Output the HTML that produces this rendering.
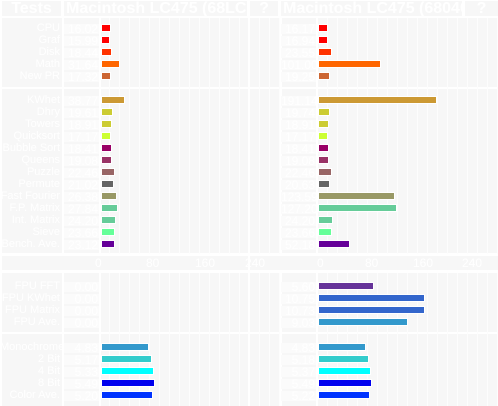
<!DOCTYPE html>
<html><head><meta charset="utf-8"><style>
*{margin:0;padding:0;box-sizing:border-box}
body{width:498px;height:406px;background:#fff;position:relative;overflow:hidden;font-family:"Liberation Sans",sans-serif;color:#fff}
div{position:absolute}
.p{background:#f7f7f7}
.g{background-image:repeating-linear-gradient(90deg,transparent 0 9px,#fdfdfd 9px 10px)}
.b{height:8px;border:1px solid #fff}
.l{font-size:11px;line-height:12px;text-align:right;width:60px;left:0;white-space:nowrap}
.v{font-size:12px;line-height:10px;text-align:right;width:35px;background:#fbfbfb;padding-right:1px}
.h{font-size:16px;font-weight:bold;line-height:16px;color:#fff;white-space:nowrap;overflow:hidden}
</style></head><body>
<div class="p h" style="left:2px;top:1px;width:59px;height:15px;text-align:center">Tests</div>
<div class="p h" style="left:64px;top:1px;width:183px;height:15px;padding-left:2px">Macintosh LC475 (68LC040)</div>
<div class="p h" style="left:250px;top:1px;width:28px;height:15px;text-align:center">?</div>
<div class="p h" style="left:281px;top:1px;width:181px;height:15px;padding-left:2px">Macintosh LC475 (68040)</div>
<div class="p h" style="left:465px;top:1px;width:33px;height:15px;text-align:center">?</div>
<div class="p" style="left:2px;top:18px;width:496px;height:69px"></div>
<div class="p" style="left:2px;top:89px;width:496px;height:164px"></div>
<div class="p" style="left:2px;top:256px;width:496px;height:14px"></div>
<div class="p" style="left:2px;top:273px;width:496px;height:59px"></div>
<div class="p" style="left:2px;top:334px;width:496px;height:72px"></div>
<div class="g" style="left:100px;top:18px;width:148px;height:236px"></div>
<div class="g" style="left:100px;top:273px;width:148px;height:133px"></div>
<div class="g" style="left:250px;top:18px;width:30px;height:236px"></div>
<div class="g" style="left:250px;top:273px;width:30px;height:133px"></div>
<div class="g" style="left:318px;top:18px;width:180px;height:236px"></div>
<div class="g" style="left:318px;top:273px;width:180px;height:133px"></div>
<div style="left:62px;top:18px;width:2px;height:236px;background:#fff"></div>
<div style="left:62px;top:273px;width:2px;height:133px;background:#fff"></div>
<div style="left:99px;top:18px;width:2px;height:236px;background:#fff"></div>
<div style="left:99px;top:273px;width:2px;height:133px;background:#fff"></div>
<div style="left:248px;top:18px;width:2px;height:388px;background:#fff"></div>
<div style="left:280px;top:18px;width:2px;height:236px;background:#fff"></div>
<div style="left:280px;top:273px;width:2px;height:133px;background:#fff"></div>
<div style="left:316px;top:18px;width:2px;height:236px;background:#fff"></div>
<div style="left:316px;top:273px;width:2px;height:133px;background:#fff"></div>
<div style="left:2px;top:257px;width:496px;height:12px;font-size:12px;line-height:12px">
<span style="position:absolute;left:93px">0</span><span style="position:absolute;left:144px">80</span><span style="position:absolute;left:193px">160</span><span style="position:absolute;left:243px">240</span>
<span style="position:absolute;left:315px">0</span><span style="position:absolute;left:363px">80</span><span style="position:absolute;left:411px">160</span><span style="position:absolute;left:460px">240</span></div>

<div class="l" style="top:22px">CPU</div><div class="l" style="top:34px">Graf</div><div class="l" style="top:46px">Disk</div><div class="l" style="top:58px">Math</div><div class="l" style="top:70px">New PR</div>
<div class="l" style="top:94px">KWhet</div><div class="l" style="top:106px">Dhry</div><div class="l" style="top:118px">Towers</div><div class="l" style="top:130px">Quicksort</div><div class="l" style="top:142px">Bubble Sort</div><div class="l" style="top:154px">Queens</div><div class="l" style="top:166px">Puzzle</div><div class="l" style="top:178px">Permute</div><div class="l" style="top:190px">Fast Fourier</div><div class="l" style="top:202px">F.P. Matrix</div><div class="l" style="top:214px">Int. Matrix</div><div class="l" style="top:226px">Sieve</div><div class="l" style="top:238px">Bench. Ave.</div>
<div class="l" style="top:280px">FPU FFT</div><div class="l" style="top:292px">FPU KWhet</div><div class="l" style="top:304px">FPU Matrix</div><div class="l" style="top:316px">FPU Ave.</div>
<div class="l" style="top:341px">Monochrome</div><div class="l" style="top:353px">2 Bit</div><div class="l" style="top:365px">4 Bit</div><div class="l" style="top:377px">8 Bit</div><div class="l" style="top:389px">Color Ave.</div>

<div class="v" style="left:64px;top:24px">16.02</div><div class="v" style="left:64px;top:36px">15.99</div><div class="v" style="left:64px;top:48px">18.44</div><div class="v" style="left:64px;top:60px">31.64</div><div class="v" style="left:64px;top:72px">17.32</div>
<div class="v" style="left:64px;top:96px">38.77</div><div class="v" style="left:64px;top:108px">19.61</div><div class="v" style="left:64px;top:120px">18.91</div><div class="v" style="left:64px;top:132px">17.17</div><div class="v" style="left:64px;top:144px">18.41</div><div class="v" style="left:64px;top:156px">19.08</div><div class="v" style="left:64px;top:168px">22.46</div><div class="v" style="left:64px;top:180px">21.02</div><div class="v" style="left:64px;top:192px">26.38</div><div class="v" style="left:64px;top:204px">27.84</div><div class="v" style="left:64px;top:216px">24.20</div><div class="v" style="left:64px;top:228px">23.66</div><div class="v" style="left:64px;top:240px">23.12</div>
<div class="v" style="left:64px;top:282px">0.00</div><div class="v" style="left:64px;top:294px">0.00</div><div class="v" style="left:64px;top:306px">0.00</div><div class="v" style="left:64px;top:318px">0.00</div>
<div class="v" style="left:64px;top:343px">4.83</div><div class="v" style="left:64px;top:355px">5.17</div><div class="v" style="left:64px;top:367px">5.33</div><div class="v" style="left:64px;top:379px">5.49</div><div class="v" style="left:64px;top:391px">5.20</div>
<div class="v" style="left:281px;top:24px">16.17</div><div class="v" style="left:281px;top:36px">16.94</div><div class="v" style="left:281px;top:48px">23.55</div><div class="v" style="left:281px;top:60px">101.00</div><div class="v" style="left:281px;top:72px">19.25</div>
<div class="v" style="left:281px;top:96px">191.14</div><div class="v" style="left:281px;top:108px">19.74</div><div class="v" style="left:281px;top:120px">18.91</div><div class="v" style="left:281px;top:132px">17.17</div><div class="v" style="left:281px;top:144px">18.41</div><div class="v" style="left:281px;top:156px">19.08</div><div class="v" style="left:281px;top:168px">22.46</div><div class="v" style="left:281px;top:180px">20.63</div><div class="v" style="left:281px;top:192px">123.59</div><div class="v" style="left:281px;top:204px">127.20</div><div class="v" style="left:281px;top:216px">24.20</div><div class="v" style="left:281px;top:228px">23.66</div><div class="v" style="left:281px;top:240px">52.18</div>
<div class="v" style="left:281px;top:282px">5.60</div><div class="v" style="left:281px;top:294px">10.75</div><div class="v" style="left:281px;top:306px">10.73</div><div class="v" style="left:281px;top:318px">9.03</div>
<div class="v" style="left:281px;top:343px">4.83</div><div class="v" style="left:281px;top:355px">5.18</div><div class="v" style="left:281px;top:367px">5.37</div><div class="v" style="left:281px;top:379px">5.49</div><div class="v" style="left:281px;top:391px">5.22</div>

<div class="b" style="left:101px;top:24px;width:10px;background:#f00"></div>
<div class="b" style="left:101px;top:36px;width:9px;background:#f00"></div>
<div class="b" style="left:101px;top:48px;width:11px;background:#f30"></div>
<div class="b" style="left:101px;top:60px;width:19px;background:#f60"></div>
<div class="b" style="left:101px;top:72px;width:10px;background:#c63"></div>
<div class="b" style="left:101px;top:96px;width:24px;background:#c93"></div>
<div class="b" style="left:101px;top:108px;width:12px;background:#cc3"></div>
<div class="b" style="left:101px;top:120px;width:11px;background:#cc3"></div>
<div class="b" style="left:101px;top:132px;width:10px;background:#cf3"></div>
<div class="b" style="left:101px;top:144px;width:11px;background:#906"></div>
<div class="b" style="left:101px;top:156px;width:11px;background:#936"></div>
<div class="b" style="left:101px;top:168px;width:14px;background:#966"></div>
<div class="b" style="left:101px;top:180px;width:13px;background:#666"></div>
<div class="b" style="left:101px;top:192px;width:16px;background:#996"></div>
<div class="b" style="left:101px;top:204px;width:17px;background:#6c9"></div>
<div class="b" style="left:101px;top:216px;width:15px;background:#6c9"></div>
<div class="b" style="left:101px;top:228px;width:14px;background:#6f9"></div>
<div class="b" style="left:101px;top:240px;width:14px;background:#609"></div>
<div class="b" style="left:101px;top:343px;width:48px;background:#39c"></div>
<div class="b" style="left:101px;top:355px;width:51px;background:#3cc"></div>
<div class="b" style="left:101px;top:367px;width:53px;background:#0ff"></div>
<div class="b" style="left:101px;top:379px;width:54px;background:#00e"></div>
<div class="b" style="left:101px;top:391px;width:52px;background:#03f"></div>
<div class="b" style="left:318px;top:24px;width:10px;background:#f00"></div>
<div class="b" style="left:318px;top:36px;width:10px;background:#f00"></div>
<div class="b" style="left:318px;top:48px;width:14px;background:#f30"></div>
<div class="b" style="left:318px;top:60px;width:63px;background:#f60"></div>
<div class="b" style="left:318px;top:72px;width:12px;background:#c63"></div>
<div class="b" style="left:318px;top:96px;width:119px;background:#c93"></div>
<div class="b" style="left:318px;top:108px;width:12px;background:#cc3"></div>
<div class="b" style="left:318px;top:120px;width:11px;background:#cc3"></div>
<div class="b" style="left:318px;top:132px;width:10px;background:#cf3"></div>
<div class="b" style="left:318px;top:144px;width:11px;background:#906"></div>
<div class="b" style="left:318px;top:156px;width:11px;background:#936"></div>
<div class="b" style="left:318px;top:168px;width:14px;background:#966"></div>
<div class="b" style="left:318px;top:180px;width:12px;background:#666"></div>
<div class="b" style="left:318px;top:192px;width:77px;background:#996"></div>
<div class="b" style="left:318px;top:204px;width:79px;background:#6c9"></div>
<div class="b" style="left:318px;top:216px;width:15px;background:#6c9"></div>
<div class="b" style="left:318px;top:228px;width:14px;background:#6f9"></div>
<div class="b" style="left:318px;top:240px;width:32px;background:#609"></div>
<div class="b" style="left:318px;top:282px;width:56px;background:#639"></div>
<div class="b" style="left:318px;top:294px;width:107px;background:#36c"></div>
<div class="b" style="left:318px;top:306px;width:107px;background:#36c"></div>
<div class="b" style="left:318px;top:318px;width:90px;background:#39c"></div>
<div class="b" style="left:318px;top:343px;width:48px;background:#39c"></div>
<div class="b" style="left:318px;top:355px;width:51px;background:#3cc"></div>
<div class="b" style="left:318px;top:367px;width:53px;background:#0ff"></div>
<div class="b" style="left:318px;top:379px;width:54px;background:#00e"></div>
<div class="b" style="left:318px;top:391px;width:52px;background:#03f"></div>
</body></html>
